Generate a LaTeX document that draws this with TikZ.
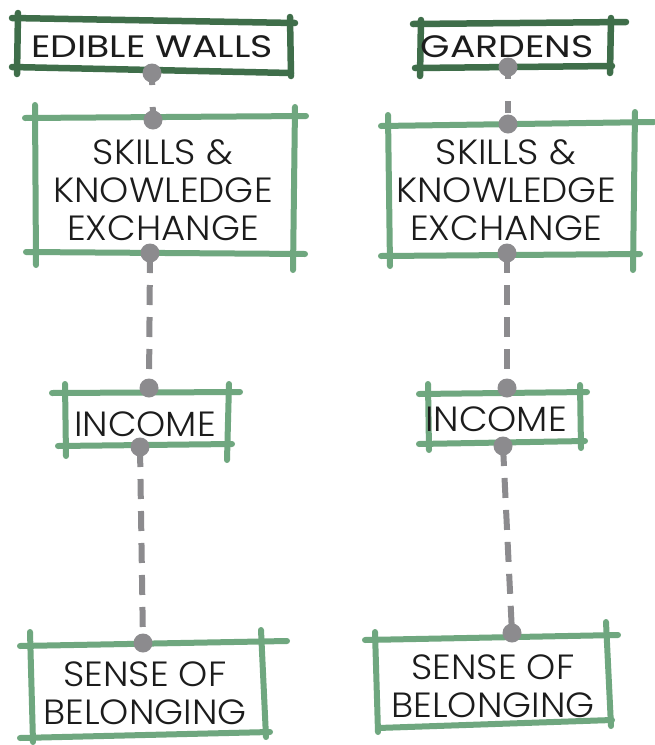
\documentclass[tikz,border=0pt]{standalone}
\usepackage{fontspec}
\setmainfont{Poppins}[UprightFont=* Light, FakeStretch=1.06]
\newfontfamily\headfont{Poppins}[FakeStretch=1.22]
\definecolor{darkgreen}{HTML}{3F6E4A}
\definecolor{lightgreen}{HTML}{6FA77F}
\definecolor{dotgray}{HTML}{8C8B8E}
\definecolor{txt}{HTML}{1C1C1C}
\tikzset{
  darkline/.style={draw=darkgreen, line width=6.5pt, line cap=round},
  lightline/.style={draw=lightgreen, line width=6pt, line cap=round},
  headtext/.style={text=txt, font=\headfont\fontsize{31}{36}\selectfont, inner sep=0pt},
  bodytext/.style={text=txt, font=\fontsize{35}{38}\selectfont, align=center, inner sep=0pt},
  conn/.style={draw=dotgray, line width=6pt, dash pattern=on 20pt off 12pt},
  shortconn/.style={draw=dotgray, line width=6pt, dash pattern=on 12pt off 22pt},
  dotmark/.style={fill=dotgray}
}
\begin{document}
\begin{tikzpicture}[x=1pt,y=-1pt]
\useasboundingbox (0,0) rectangle (654,745);
\fill[white] (0,0) rectangle (654,745);

% ---------- LEFT COLUMN ----------
\draw[darkline] (12,18) -- (295,23);
\draw[darkline] (12,67) -- (291,73);
\draw[darkline] (18,13) -- (17,74);
\draw[darkline] (290,17) -- (291,76);
\node[headtext] (ew) at (152,47) {EDIBLE WALLS};

\draw[lightline] (25,118) -- (306,116);
\draw[lightline] (26,252) -- (305,254);
\draw[lightline] (35,105) -- (36,265);
\draw[lightline] (295,107) -- (293,270);
\node[bodytext] (skl) at (163,190) {SKILLS \&\\KNOWLEDGE\\EXCHANGE};

\draw[lightline] (52,393) -- (240,392);
\draw[lightline] (58,446) -- (232,444);
\draw[lightline] (65,384) -- (66,456);
\draw[lightline] (229,384) -- (227,460);
\node[bodytext] (inl) at (145,424) {INCOME};

\draw[lightline] (20,646) -- (287,641);
\draw[lightline] (20,738) -- (270,732);
\draw[lightline] (30,632) -- (33,742);
\draw[lightline] (261,630) -- (266,737);
\node[bodytext] (sbl) at (145,693) {SENSE OF\\BELONGING};

\coordinate (l1) at (152,73);
\coordinate (l2) at (153,120);
\coordinate (l3) at (150,253);
\coordinate (l4) at (149,388);
\coordinate (l5) at (140,447);
\coordinate (l6) at (143,643);
\draw[shortconn] (l1) -- (l2);
\draw[conn] (l3) -- (l4);
\draw[conn] (l5) -- (l6);
\foreach \p in {l1,l2,l3,l4,l5,l6} \fill[dotmark] (\p) circle (9.5pt);

% ---------- RIGHT COLUMN ----------
\draw[darkline] (413,24) -- (626,22);
\draw[darkline] (415,68) -- (612,66);
\draw[darkline] (421,20) -- (420,76);
\draw[darkline] (611,18) -- (610,73);
\node[headtext] (gd) at (507,47) {GARDENS};

\draw[lightline] (381,126) -- (654,122);
\draw[lightline] (381,256) -- (640,254);
\draw[lightline] (388,115) -- (390,266);
\draw[lightline] (635,112) -- (633,270);
\node[bodytext] (skr) at (506,190) {SKILLS \&\\KNOWLEDGE\\EXCHANGE};

\draw[lightline] (419,394) -- (587,392);
\draw[lightline] (419,444) -- (585,441);
\draw[lightline] (428,384) -- (429,450);
\draw[lightline] (580,385) -- (581,448);
\node[bodytext] (inr) at (496,419) {INCOME};

\draw[lightline] (365,640) -- (618,635);
\draw[lightline] (378,728) -- (612,720);
\draw[lightline] (375,632) -- (378,732);
\draw[lightline] (606,622) -- (611,726);
\node[bodytext] (sbr) at (493,686) {SENSE OF\\BELONGING};

\coordinate (r1) at (508,67);
\coordinate (r2) at (508,124);
\coordinate (r3) at (507,253);
\coordinate (r4) at (507,388);
\coordinate (r5) at (503,446);
\coordinate (r6) at (512,633);
\draw[shortconn] (r1) -- (r2);
\draw[conn] (r3) -- (r4);
\draw[conn] (r5) -- (r6);
\foreach \p in {r1,r2,r3,r4,r5,r6} \fill[dotmark] (\p) circle (9.5pt);
\end{tikzpicture}
\end{document}
